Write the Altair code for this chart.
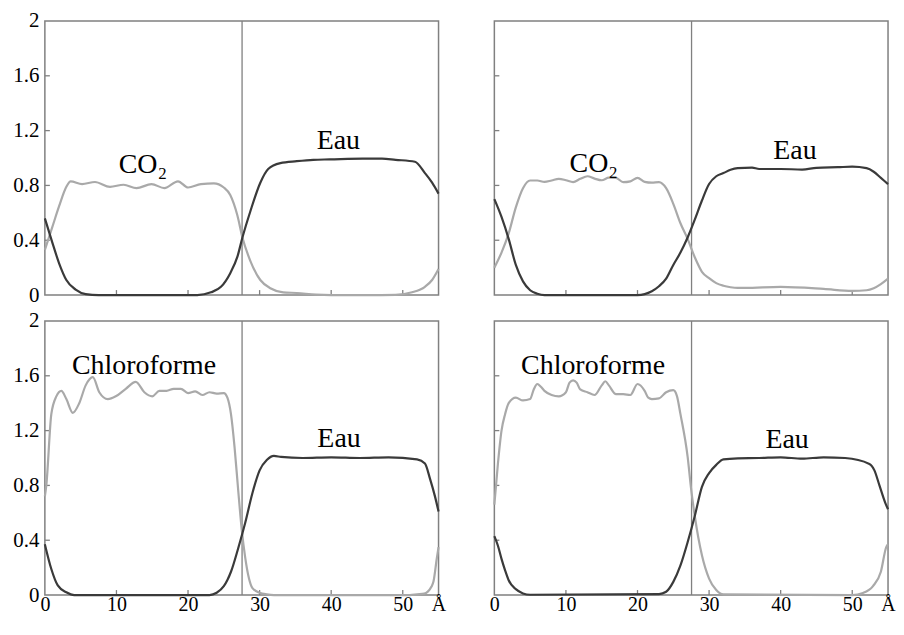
import altair as alt
import pandas as pd

# ---------------- data ----------------
# Top-left panel : CO2 / Eau
TL_co2_x = [0, 1, 2, 3, 3.6, 5.2, 7, 9.1, 11, 12.8, 14.9, 16.7, 18.6, 20, 21.8, 23.6, 25, 25.9, 26.9, 27.6,
            28.7, 30.1, 31.5, 33.3, 35.2, 37.9, 40, 45, 49, 51.3, 53.1, 54.1, 55]
TL_co2_y = [0.33, 0.49, 0.65, 0.79, 0.83, 0.81, 0.825, 0.79, 0.805, 0.78, 0.81, 0.78, 0.83, 0.785, 0.81, 0.815,
            0.785, 0.73, 0.58, 0.42, 0.25, 0.11, 0.05, 0.02, 0.015, 0.003, 0, 0, 0.002, 0.02, 0.06, 0.11, 0.19]
TL_eau_x = [0, 1, 2, 3, 4.3, 5.7, 7.5, 21.3, 23.2, 24.6, 25.9, 26.9, 27.6, 28.7, 30.1, 31.2, 32.9, 35.2, 37.5,
            39.8, 44.4, 47.1, 49, 51.7, 53.1, 54.1, 55]
TL_eau_y = [0.56, 0.39, 0.23, 0.11, 0.04, 0.007, 0, 0, 0.02, 0.06, 0.16, 0.28, 0.42, 0.61, 0.82, 0.92, 0.963,
            0.977, 0.987, 0.99, 0.996, 0.996, 0.987, 0.973, 0.89, 0.82, 0.74]

# Top-right panel : CO2 / Eau
TR_co2_x = list(range(0, 35)) + [35, 40, 46, 50, 52, 53, 54, 55]
TR_co2_y = [0.20, 0.31, 0.45, 0.64, 0.78, 0.836, 0.836, 0.826, 0.836, 0.848, 0.838, 0.824, 0.848, 0.867, 0.85,
            0.838, 0.857, 0.855, 0.824, 0.83, 0.855, 0.826, 0.82, 0.824, 0.78, 0.666, 0.524, 0.41, 0.276, 0.17,
            0.123, 0.087, 0.068, 0.057, 0.052,
            0.052, 0.06, 0.045, 0.03, 0.035, 0.05, 0.08, 0.12]
TR_eau_x = [0, 1, 2, 3, 4, 5, 6, 7, 20, 21, 22, 23, 24, 25, 26, 27, 28, 29, 30, 31, 32, 33, 34, 36, 37, 40, 43,
            45, 48, 50, 52, 53, 54, 55]
TR_eau_y = [0.70, 0.57, 0.41, 0.22, 0.10, 0.035, 0.01, 0, 0, 0.007, 0.028, 0.064, 0.12, 0.22, 0.31, 0.42, 0.55,
            0.69, 0.81, 0.867, 0.89, 0.914, 0.926, 0.93, 0.92, 0.92, 0.916, 0.928, 0.933, 0.937, 0.926, 0.90,
            0.855, 0.81]

# Bottom-left panel : Chloroforme / Eau
BL_chl_x = [0, 0.2, 0.9, 1.6, 2.3, 3.0, 3.9, 4.8, 5.7, 6.7, 7.6, 8.8, 9.9, 11.3, 12.7, 13.9, 15, 16, 17, 18, 19,
            20, 21, 22, 23, 24, 25, 25.5, 26, 26.5, 27, 27.5, 28, 28.5, 29, 30, 31, 32, 51, 52, 53, 53.5, 54,
            54.3, 54.75, 55]
BL_chl_y = [0.72, 0.80, 1.32, 1.45, 1.49, 1.43, 1.33, 1.40, 1.53, 1.59, 1.48, 1.43, 1.45, 1.505, 1.555, 1.48,
            1.45, 1.49, 1.49, 1.505, 1.505, 1.474, 1.486, 1.46, 1.48, 1.47, 1.474, 1.44, 1.32, 1.08, 0.77, 0.48,
            0.27, 0.124, 0.05, 0.017, 0.005, 0, 0, 0.005, 0.01, 0.025, 0.06, 0.10, 0.265, 0.35]
BL_eau_x = [0, 0.9, 1.8, 3.0, 4.1, 23, 24, 25, 25.5, 26, 27, 28, 29, 30, 31, 32, 33, 36, 40, 44, 48, 52, 53.1,
            53.8, 54.5, 55]
BL_eau_y = [0.37, 0.19, 0.07, 0.02, 0, 0, 0.017, 0.065, 0.11, 0.17, 0.34, 0.53, 0.745, 0.91, 0.985, 1.015,
            1.008, 1.0, 1.005, 1.0, 1.005, 0.99, 0.96, 0.85, 0.72, 0.61]

# Bottom-right panel : Chloroforme / Eau
BR_chl_x = [0, 0.5, 1, 1.5, 2, 3, 4, 5, 5.5, 6, 6.5, 7, 8, 9, 10, 10.5, 11, 11.5, 12, 13, 14, 15, 15.5, 16, 17,
            18, 19, 20, 21, 21.5, 22, 23, 24, 25, 25.5, 26, 27, 27.5, 28, 29, 30, 31, 32, 50, 51.5, 52.9, 54,
            54.75, 55]
BR_chl_y = [0.66, 0.96, 1.20, 1.32, 1.40, 1.44, 1.42, 1.43, 1.50, 1.54, 1.52, 1.49, 1.46, 1.45, 1.48, 1.55,
            1.567, 1.55, 1.50, 1.48, 1.46, 1.53, 1.56, 1.53, 1.466, 1.466, 1.46, 1.54, 1.49, 1.44, 1.43, 1.435,
            1.48, 1.495, 1.454, 1.32, 1.01, 0.77, 0.577, 0.29, 0.12, 0.036, 0.005, 0, 0.015, 0.065, 0.17, 0.35,
            0.37]
BR_eau_x = [0, 0.5, 1, 1.5, 2, 3, 4, 5, 23, 24, 25, 26, 27, 28, 29, 30, 31, 32, 34, 37, 40, 43, 46, 49, 52.4,
            53.1, 53.8, 54.6, 55]
BR_eau_y = [0.43, 0.36, 0.264, 0.18, 0.108, 0.043, 0.012, 0.002, 0.007, 0.024, 0.096, 0.216, 0.385, 0.577,
            0.79, 0.89, 0.95, 0.99, 0.998, 1.0, 1.005, 0.995, 1.005, 1.0, 0.957, 0.91, 0.80, 0.675, 0.626]

# Annotations (text, x, baseline y)
TL_lab = (["CO₂", "Eau"], [13.7, 41.0], [0.89, 1.065])
TR_lab = (["CO₂", "Eau"], [13.9, 42.0], [0.90, 0.996])
BL_lab = (["Chloroforme", "Eau"], [13.85, 41.1], [1.61, 1.08])
BR_lab = (["Chloroforme", "Eau"], [13.8, 40.9], [1.61, 1.07])

INTERFACE = [27.55]
X_TICKS = [10, 20, 30, 40, 50]
Y_TICKS = [0.4, 0.8, 1.2, 1.6]
X_LABELS = [0, 10, 20, 30, 40, 50, 55]
Y_LABELS = [0, 0.4, 0.8, 1.2, 1.6, 2]

# ---------------- styling ----------------
W, H = 395, 275
FONT = "serif"
LIGHT = "#a9a9a9"
DARK = "#3a3a3a"
FRAME = "#808080"

xs = alt.Scale(domain=[0, 55], nice=False, zero=False)
ys = alt.Scale(domain=[0, 2], nice=False, zero=False)


def x_axis(show):
    if not show:
        return None
    return alt.Axis(values=X_LABELS, grid=False, ticks=False, domain=False, title=None,
                    labelExpr="datum.value == 55 ? 'Å' : format(datum.value, 'd')",
                    labelFlush=False, labelOverlap=False, labelFont=FONT, labelFontSize=20,
                    labelColor="black", labelPadding=0)


def y_axis(show):
    if not show:
        return None
    return alt.Axis(values=Y_LABELS, grid=False, ticks=False, domain=False, title=None,
                    labelExpr="format(datum.value, '~g')",
                    labelFlush=False, labelOverlap=False, labelFont=FONT, labelFontSize=21,
                    labelColor="black", labelPadding=6)


def panel(cx, cy, ex, ey, lab, show_x, show_y):
    xa = x_axis(show_x)
    ya = y_axis(show_y)
    X = lambda f: alt.X(f, scale=xs, axis=xa)
    Y = lambda f: alt.Y(f, scale=ys, axis=ya)

    light = alt.Chart(pd.DataFrame({"x": cx, "y": cy})).mark_line(
        color=LIGHT, strokeWidth=2.2, interpolate="monotone").encode(x=X("x:Q"), y=Y("y:Q"))
    dark = alt.Chart(pd.DataFrame({"x": ex, "y": ey})).mark_line(
        color=DARK, strokeWidth=2.2, interpolate="monotone").encode(x=X("x:Q"), y=Y("y:Q"))
    vline = alt.Chart(pd.DataFrame({"x": INTERFACE})).mark_rule(
        color=FRAME, strokeWidth=1.3).encode(x=X("x:Q"))
    xt = alt.Chart(pd.DataFrame({"v": X_TICKS})).mark_rule(color=FRAME, strokeWidth=1.3).encode(
        x=X("v:Q"), y=alt.value(H), y2=alt.value(H - 5))
    yt = alt.Chart(pd.DataFrame({"v": Y_TICKS})).mark_rule(color=FRAME, strokeWidth=1.3).encode(
        y=Y("v:Q"), x=alt.value(0), x2=alt.value(5))
    txt_df = pd.DataFrame({"t": lab[0], "x": lab[1], "y": lab[2]})
    txt = alt.Chart(txt_df).mark_text(font=FONT, fontSize=28, baseline="alphabetic",
                                      align="center", color="black").encode(
        x=X("x:Q"), y=Y("y:Q"), text="t:N")
    return alt.layer(vline, xt, yt, light, dark, txt).properties(width=W, height=H)


TL = panel(TL_co2_x, TL_co2_y, TL_eau_x, TL_eau_y, TL_lab, False, True)
TR = panel(TR_co2_x, TR_co2_y, TR_eau_x, TR_eau_y, TR_lab, False, False)
BL = panel(BL_chl_x, BL_chl_y, BL_eau_x, BL_eau_y, BL_lab, True, True)
BR = panel(BR_chl_x, BR_chl_y, BR_eau_x, BR_eau_y, BR_lab, True, False)

chart = alt.concat(TL, TR, BL, BR, columns=2,
                   spacing=alt.RowColnumber(row=26, column=56), bounds="flush").properties(
    padding={"left": 4, "top": 0, "right": 0, "bottom": 0}, background="white"
).configure(font=FONT).configure_view(stroke=FRAME, strokeWidth=1.5)

chart.save("out.html", embed_options={"renderer": "svg", "actions": False})
